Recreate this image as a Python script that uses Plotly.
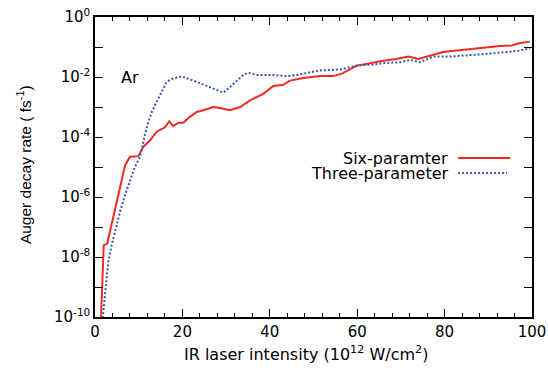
import plotly.graph_objects as go

# Six-paramter (red, solid)
six_x = [1.3, 2.0, 2.8, 3.8, 5.0, 6.1, 6.9, 8.0, 9.9, 11.05, 12.6, 14.1, 16.0, 17.0, 17.9,
         19.1, 20.2, 21.7, 23.3, 24.8, 27.1, 28.6, 30.9, 33.2, 35.5, 38.5, 40.8, 43.1, 44.6,
         47.7, 49.2, 51.5, 54.5, 56.5, 59.9, 62.9, 66.0, 69.0, 71.7, 74.0, 76.7, 79.7, 82.8,
         86.6, 89.6, 92.7, 95.4, 97.3, 99.5]
six_y = [5.0e-11, 2.5e-8, 2.8e-8, 1.26e-7, 7.9e-7, 3.2e-6, 1.15e-5, 2.2e-5, 2.3e-5, 4.7e-5,
         7.8e-5, 1.5e-4, 2.1e-4, 3.3e-4, 2.3e-4, 3.0e-4, 3.0e-4, 4.7e-4, 6.8e-4, 7.8e-4,
         1.0e-3, 9.3e-4, 7.8e-4, 1.0e-3, 1.66e-3, 2.75e-3, 5.0e-3, 5.5e-3, 7.6e-3, 9.3e-3,
         1.0e-2, 1.07e-2, 1.07e-2, 1.29e-2, 2.4e-2, 2.9e-2, 3.5e-2, 4.0e-2, 4.8e-2, 4.0e-2,
         5.1e-2, 6.8e-2, 7.6e-2, 8.7e-2, 9.3e-2, 0.107, 0.112, 0.135, 0.151]

# Three-parameter (blue, dotted)
three_x = [1.6, 2.29, 3.04, 3.82, 4.97, 5.72, 6.86, 8.0, 9.15, 10.3, 10.7, 11.4, 12.2, 13.0,
           14.1, 15.3, 16.4, 17.6, 19.8, 22.5, 25.6, 27.8, 29.4, 30.9, 32.4, 33.9, 35.1, 37.0,
           40.8, 43.9, 46.2, 51.5, 56.1, 59.9, 63.7, 66.8, 69.8, 72.1, 74.4, 77.4, 81.2, 85.1,
           89.6, 94.2, 97.3, 99.5]
three_y = [5.0e-11, 7.1e-10, 7.1e-9, 2.5e-8, 1.32e-7, 3.2e-7, 1.15e-6, 3.2e-6, 1.02e-5, 2.2e-5,
           4.1e-5, 1.15e-4, 3.2e-4, 6.8e-4, 1.48e-3, 3.5e-3, 6.8e-3, 8.7e-3, 1.05e-2, 7.6e-3,
           5.0e-3, 3.5e-3, 3.0e-3, 4.6e-3, 7.6e-3, 1.17e-2, 1.38e-2, 1.17e-2, 1.17e-2, 1.07e-2,
           1.17e-2, 1.66e-2, 1.78e-2, 2.4e-2, 2.6e-2, 2.95e-2, 3.1e-2, 3.7e-2, 3.1e-2, 4.8e-2,
           4.8e-2, 5.2e-2, 5.9e-2, 6.8e-2, 7.6e-2, 9.1e-2]

x_ticks = [0, 20, 40, 60, 80, 100]
y_exps = list(range(-10, 1))
y_tickvals = [10.0 ** e for e in y_exps]
y_ticktext = [("10<sup>%d</sup>" % e) if e % 2 == 0 else "" for e in y_exps]

RED = "#ee2a24"
BLUE = "#3a56ad"
WIDE = "DejaVu Sans, sans-serif"
NARROW = "Liberation Sans, Arial, sans-serif"

fig = go.Figure()
fig.add_trace(go.Scatter(x=six_x, y=six_y, mode="lines", name="Six-paramter",
                         line=dict(color=RED, width=2), showlegend=False))
fig.add_trace(go.Scatter(x=three_x, y=three_y, mode="lines", name="Three-parameter",
                         line=dict(color=BLUE, width=2, dash="2px,2px"), showlegend=False))

fig.update_layout(
    width=548, height=379,
    margin=dict(l=95, r=16, t=17, b=62),
    paper_bgcolor="white", plot_bgcolor="white",
    font=dict(family=WIDE, size=15, color="black"),
)
fig.update_xaxes(
    range=[0, 100], tickvals=x_ticks, ticks="inside", ticklen=8, tickwidth=1,
    tickcolor="black", showline=True, linecolor="black", linewidth=1.5,
    mirror="allticks", showgrid=False, zeroline=False, automargin=False,
    minor=dict(dtick=4, ticks="inside", ticklen=4, tickcolor="black", showgrid=False),
    tickfont=dict(size=15),
)
fig.update_yaxes(
    type="log", range=[-10, 0], tickvals=y_tickvals, ticktext=y_ticktext,
    ticks="inside", ticklen=8, tickwidth=1, tickcolor="black",
    showline=True, linecolor="black", linewidth=1.5, mirror="allticks",
    showgrid=False, zeroline=False, automargin=False,
    tickfont=dict(size=15),
)

# axis titles
fig.add_annotation(x=0.483, y=-0.12, xref="paper", yref="paper",
                   text="IR laser intensity (10<sup>12</sup> W/cm<sup>2</sup>)",
                   showarrow=False, xanchor="center", yanchor="middle",
                   font=dict(family=WIDE, size=16))
fig.add_annotation(x=-0.162, y=0.507, xref="paper", yref="paper",
                   text="Auger decay rate ( fs<sup>-1</sup>)", textangle=-90,
                   showarrow=False, xanchor="center", yanchor="middle",
                   font=dict(family=NARROW, size=15.5))

fig.add_annotation(x=8.1, y=-2, xref="x", yref="y", text="Ar", showarrow=False,
                   font=dict(size=16))

# legend (text to the left of the sample line)
legend_items = [("Six-paramter", RED, "solid", 0.53, 0.95),
                ("Three-parameter", BLUE, "2px,2px", 0.48, 0.943)]
for label, color, dash, yp, xend in legend_items:
    fig.add_annotation(x=0.812, y=yp, xref="paper", yref="paper", text=label,
                       showarrow=False, xanchor="right", yanchor="middle",
                       font=dict(size=16))
    fig.add_shape(type="line", xref="paper", yref="paper", x0=0.831, x1=xend, y0=yp, y1=yp,
                  line=dict(color=color, width=2, dash=dash))

fig.write_html("out.html")
